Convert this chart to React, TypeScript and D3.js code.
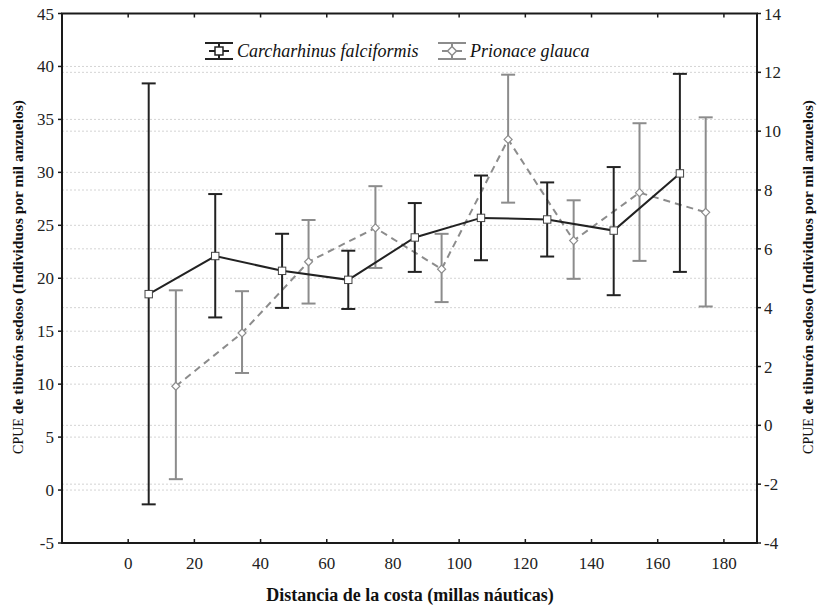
import React from "react";
import * as d3 from "d3";

const blackX = [6.2, 26.3, 46.5, 66.5, 86.6, 106.6, 126.6, 146.7, 166.7];
const blackMean = [18.5, 22.1, 20.7, 19.85, 23.85, 25.7, 25.55, 24.5, 29.9];
const blackUpper = [38.4, 27.95, 24.2, 22.6, 27.1, 29.7, 29.05, 30.5, 39.3];
const blackLower = [-1.35, 16.3, 17.2, 17.1, 20.6, 21.7, 22.05, 18.4, 20.6];

const grayX = [14.4, 34.4, 54.5, 74.7, 94.7, 114.8, 134.6, 154.5, 174.5];
const grayMean = [1.33, 3.14, 5.56, 6.71, 5.31, 9.72, 6.28, 7.91, 7.24];
const grayUpper = [4.59, 4.56, 6.98, 8.13, 6.51, 11.92, 7.65, 10.27, 10.47];
const grayLower = [-1.83, 1.78, 4.14, 5.35, 4.19, 7.57, 4.98, 5.59, 4.04];

const xTicks = [0, 20, 40, 60, 80, 100, 120, 140, 160, 180];
const leftTicks = [-5, 0, 5, 10, 15, 20, 25, 30, 35, 40, 45];
const rightTicks = [-4, -2, 0, 2, 4, 6, 8, 10, 12, 14];

const seriesNames = ["Carcharhinus falciformis", "Prionace glauca"];
const xTitle = "Distancia de la costa (millas náuticas)";
const yTitleA = "CPUE";
const yTitleB = " de tiburón sedoso (Individuos por mil anzuelos)";

const L = 62, R = 757, T = 13.5, B = 543;
const BLACK = "#222222";
const GRAY = "#8c8c8c";
const FONT = "Liberation Serif, DejaVu Serif, serif";

export default function App() {
  const x = d3.scaleLinear().domain([-20, 190]).range([L, R]);
  const yL = d3.scaleLinear().domain([-5, 45]).range([B, T]);
  const yR = d3.scaleLinear().domain([-4, 14]).range([B, T]);

  const black = blackX.map((v, i) => ({ x: v, m: blackMean[i], u: blackUpper[i], l: blackLower[i] }));
  const gray = grayX.map((v, i) => ({ x: v, m: grayMean[i], u: grayUpper[i], l: grayLower[i] }));

  const lineB = d3.line<any>().x((d) => x(d.x)).y((d) => yL(d.m));
  const lineG = d3.line<any>().x((d) => x(d.x)).y((d) => yR(d.m));
  const cap = 7;

  const legendY = 51;
  const legend = (x0: number, color: string, marker: "sq" | "dm", label: string, tx: number) => (
    <g>
      <line x1={x0} x2={x0 + 28} y1={legendY - 8} y2={legendY - 8} stroke={color} strokeWidth={2} />
      <line x1={x0} x2={x0 + 28} y1={legendY + 8} y2={legendY + 8} stroke={color} strokeWidth={2} />
      <line x1={x0 + 14} x2={x0 + 14} y1={legendY - 8} y2={legendY + 8} stroke={color} strokeWidth={2} />
      <line x1={x0 + 4} x2={x0 + 24} y1={legendY} y2={legendY} stroke={color} strokeWidth={2} />
      {marker === "sq" ? (
        <rect x={x0 + 14 - 4} y={legendY - 4} width={8} height={8} fill="#fff" stroke={color} strokeWidth={1.5} />
      ) : (
        <path d={`M${x0 + 14},${legendY - 4.5}L${x0 + 18.5},${legendY}L${x0 + 14},${legendY + 4.5}L${x0 + 9.5},${legendY}Z`} fill="#fff" stroke={color} strokeWidth={1.5} />
      )}
      <text x={tx} y={legendY + 6} style={{ fontFamily: FONT }} fontStyle="italic" fontSize={18} fill="#111">{label}</text>
    </g>
  );

  return (
    <svg width={822} height={608} style={{ position: "absolute", left: 0, top: 0, background: "#fff", fontFamily: FONT }}>
      <rect x={0} y={0} width={822} height={608} fill="#fff" />
      {leftTicks.filter((t) => t > -5 && t < 45).map((t) => (
        <line key={"gl" + t} x1={L} x2={R} y1={yL(t)} y2={yL(t)} stroke="#d4d4d4" strokeWidth={1} strokeDasharray="2,2" />
      ))}
      {rightTicks.filter((t) => t > -4 && t < 14).map((t) => (
        <line key={"gr" + t} x1={L} x2={R} y1={yR(t)} y2={yR(t)} stroke="#d4d4d4" strokeWidth={1} strokeDasharray="2,2" />
      ))}

      <path d={lineG(gray) || ""} fill="none" stroke={GRAY} strokeWidth={2} strokeDasharray="7,5" />
      {gray.map((d, i) => (
        <g key={"g" + i}>
          <line x1={x(d.x)} x2={x(d.x)} y1={yR(d.u)} y2={yR(d.l)} stroke={GRAY} strokeWidth={2} />
          <line x1={x(d.x) - cap} x2={x(d.x) + cap} y1={yR(d.u)} y2={yR(d.u)} stroke={GRAY} strokeWidth={2} />
          <line x1={x(d.x) - cap} x2={x(d.x) + cap} y1={yR(d.l)} y2={yR(d.l)} stroke={GRAY} strokeWidth={2} />
          <path d={`M${x(d.x)},${yR(d.m) - 4}L${x(d.x) + 4},${yR(d.m)}L${x(d.x)},${yR(d.m) + 4}L${x(d.x) - 4},${yR(d.m)}Z`} fill="#fff" stroke={GRAY} strokeWidth={1.2} />
        </g>
      ))}

      <path d={lineB(black) || ""} fill="none" stroke={BLACK} strokeWidth={2} />
      {black.map((d, i) => (
        <g key={"b" + i}>
          <line x1={x(d.x)} x2={x(d.x)} y1={yL(d.u)} y2={yL(d.l)} stroke={BLACK} strokeWidth={2} />
          <line x1={x(d.x) - cap} x2={x(d.x) + cap} y1={yL(d.u)} y2={yL(d.u)} stroke={BLACK} strokeWidth={2} />
          <line x1={x(d.x) - cap} x2={x(d.x) + cap} y1={yL(d.l)} y2={yL(d.l)} stroke={BLACK} strokeWidth={2} />
          <rect x={x(d.x) - 3.7} y={yL(d.m) - 3.7} width={7.4} height={7.4} fill="#fff" stroke={"#444"} strokeWidth={1} />
        </g>
      ))}

      <rect x={L} y={T} width={R - L} height={B - T} fill="none" stroke="#1a1a1a" strokeWidth={2} />

      {xTicks.map((t) => (
        <g key={"xt" + t}>
          <line x1={x(t)} x2={x(t)} y1={B} y2={B - 4} stroke="#1a1a1a" strokeWidth={1.5} />
          <line x1={x(t)} x2={x(t)} y1={T} y2={T + 4} stroke="#1a1a1a" strokeWidth={1.5} />
          <text x={x(t)} y={568.5} textAnchor="middle" style={{ fontFamily: FONT }} fontSize={17} fill="#222">{t}</text>
        </g>
      ))}
      {leftTicks.map((t) => (
        <g key={"lt" + t}>
          <line x1={L - 4} x2={L} y1={yL(t)} y2={yL(t)} stroke="#1a1a1a" strokeWidth={1.5} />
          <text x={54} y={yL(t) + 6} textAnchor="end" style={{ fontFamily: FONT }} fontSize={17} fill="#222">{t}</text>
        </g>
      ))}
      {rightTicks.map((t) => (
        <g key={"rt" + t}>
          <line x1={R} x2={R + 4} y1={yR(t)} y2={yR(t)} stroke="#1a1a1a" strokeWidth={1.5} />
          <text x={764} y={yR(t) + 6} textAnchor="start" style={{ fontFamily: FONT }} fontSize={17} fill="#222">{t}</text>
        </g>
      ))}

      <text x={410} y={601} textAnchor="middle" style={{ fontFamily: FONT }} fontWeight="bold" fontSize={18} fill="#111">{xTitle}</text>
      <text transform="translate(23,277) rotate(-90)" textAnchor="middle" style={{ fontFamily: FONT }} fill="#111">
        <tspan fontSize={14}>{yTitleA}</tspan>
        <tspan fontSize={15.5} fontWeight="bold">{yTitleB}</tspan>
      </text>
      <text transform="translate(813,277) rotate(-90)" textAnchor="middle" style={{ fontFamily: FONT }} fill="#111">
        <tspan fontSize={14}>{yTitleA}</tspan>
        <tspan fontSize={15.5} fontWeight="bold">{yTitleB}</tspan>
      </text>

      {legend(205, BLACK, "sq", seriesNames[0], 237)}
      {legend(438, GRAY, "dm", seriesNames[1], 470)}
    </svg>
  );
}
